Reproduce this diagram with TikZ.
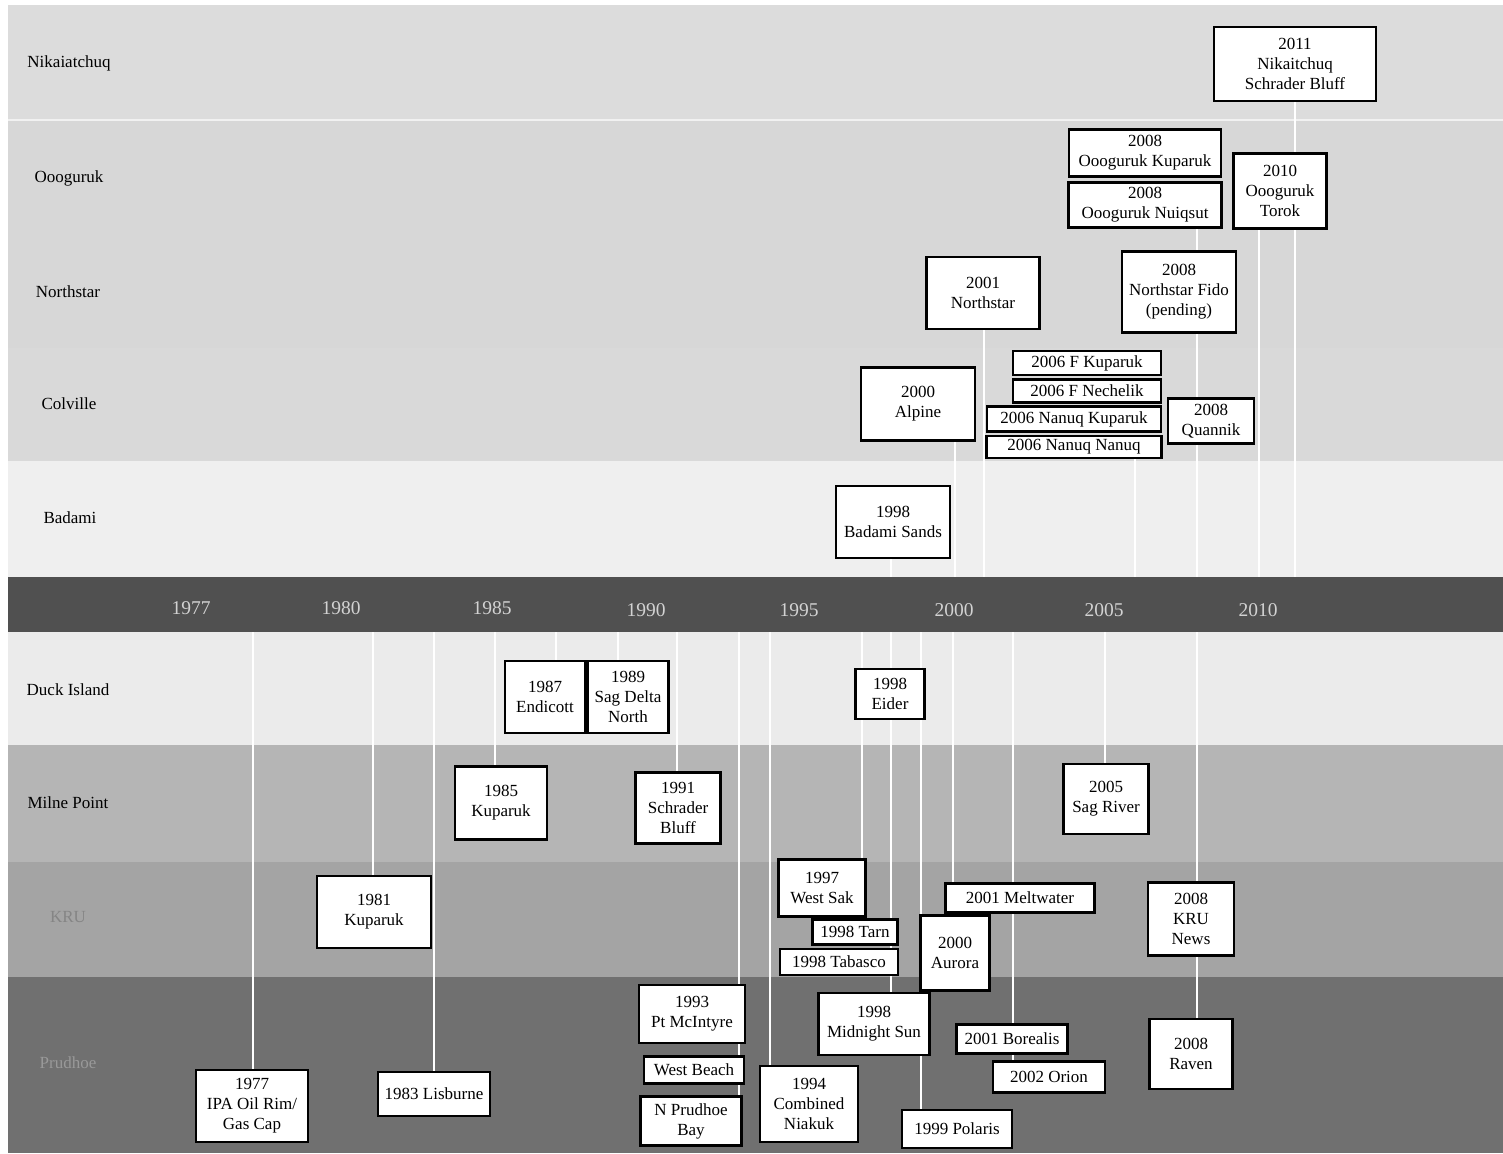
\documentclass[tikz,border=0pt]{standalone}
\usepackage{fontspec}
\setmainfont{Liberation Serif}
\usepackage{tikz}
\usetikzlibrary{backgrounds}

\definecolor{nikband}{HTML}{DCDCDC}
\definecolor{topband}{HTML}{D7D7D7}
\definecolor{colband}{HTML}{D9D9D9}
\definecolor{badband}{HTML}{EFEFEF}
\definecolor{barcol}{HTML}{505050}
\definecolor{duckband}{HTML}{EBEBEB}
\definecolor{milneband}{HTML}{B5B5B5}
\definecolor{kruband}{HTML}{A4A4A4}
\definecolor{prudband}{HTML}{707070}
\definecolor{yrgray}{HTML}{D2D2D2}

\begin{document}
\begin{tikzpicture}[x=0.5pt, y=-0.5pt,
    box/.style={draw=black, fill=white, line width=1.1pt, align=center, inner sep=1pt, font=\fontsize{8.5}{10}\selectfont},
    sz/.style 2 args={minimum width=#1*0.5pt, minimum height=#2*0.5pt},
    lane/.style={font=\fontsize{8.5}{10}\selectfont},
    yr/.style={text=yrgray, font=\fontsize{9.75}{11}\selectfont},
    conn/.style={white, line width=1pt}]
        \useasboundingbox (0,0) rectangle (1503,1153);

        \begin{pgfonlayer}{background}
        \fill[white] (0,0) rectangle (1503,1153);
        \fill[nikband] (8,5) rectangle (1503,120);
        \fill[topband] (8,120) rectangle (1503,348);
        \fill[colband] (8,348) rectangle (1503,461);
        \fill[badband] (8,461) rectangle (1503,577);
        \fill[barcol] (8,577) rectangle (1503,632);
        \fill[duckband] (8,632) rectangle (1503,745);
        \fill[milneband] (8,745) rectangle (1503,862);
        \fill[kruband] (8,862) rectangle (1503,977);
        \fill[prudband] (8,977) rectangle (1503,1153);
        \draw[white!60!nikband, line width=1pt] (8,120) -- (1503,120);
        \end{pgfonlayer}

        % fields
        \node[lane] (lnik) at (69,63) {Nikaiatchuq};
        \node[lane] (looo) at (69,178) {Oooguruk};
        \node[lane] (lnst) at (68,292) {Northstar};
        \node[lane] (lcol) at (69,404) {Colville};
        \node[lane] (lbad) at (70,518) {Badami};
        \node[lane] (lduck) at (68,690) {Duck Island};
        \node[lane] (lmil) at (68,803) {Milne Point};
        \node[lane, text=black!48] (lkru) at (68,917) {KRU};
        \node[lane, text=black!40] (lpru) at (68,1063) {Prudhoe};

        % years on the bar
        \node[yr] (y1977) at (191,608) {1977};
        \node[yr] (y1980) at (341,608) {1980};
        \node[yr] (y1985) at (492,608) {1985};
        \node[yr] (y1990) at (646,610) {1990};
        \node[yr] (y1995) at (799,610) {1995};
        \node[yr] (y2000) at (954,610) {2000};
        \node[yr] (y2005) at (1104,610) {2005};
        \node[yr] (y2010) at (1258,610) {2010};

        % upper fields
        \node[box, sz={162}{74}] (nik) at (1295,64) {2011\\Nikaitchuq\\Schrader Bluff};
        \node[box, sz={152}{47}] (ook) at (1145,153) {2008\\Oooguruk Kuparuk};
        \node[box, sz={153}{45}] (oon) at (1145,205) {2008\\Oooguruk Nuiqsut};
        \node[box, sz={93}{75}] (oot) at (1280,191) {2010\\Oooguruk\\Torok};
        \node[box, sz={113}{72}] (nst) at (983,293) {2001\\Northstar};
        \node[box, sz={114}{81}] (fido) at (1179,292) {2008\\Northstar Fido\\(pending)};
        \node[box, sz={148}{24}] (fkup) at (1087,363) {2006 F Kuparuk};
        \node[box, sz={148}{23}] (fnec) at (1087,391) {2006 F Nechelik};
        \node[box, sz={174}{25}] (nkup) at (1074,419) {2006 Nanuq Kuparuk};
        \node[box, sz={175}{22}] (nnan) at (1074,447) {2006 Nanuq Nanuq};
        \node[box, sz={86}{45}] (quan) at (1211,421) {2008\\Quannik};
        \node[box, sz={114}{73}] (alp) at (918,404) {2000\\Alpine};
        \node[box, sz={114}{72}] (bad) at (893,522) {1998\\Badami Sands};

        % lower fields
        \node[box, sz={80}{72}] (endi) at (545,697) {1987\\Endicott};
        \node[box, sz={81}{72}] (sagd) at (628,697) {1989\\Sag Delta\\North};
        \node[box, sz={69}{50}] (eider) at (890,694) {1998\\Eider};
        \node[box, sz={92}{73}] (mkup) at (501,803) {1985\\Kuparuk};
        \node[box, sz={85}{71}] (schr) at (678,808) {1991\\Schrader\\Bluff};
        \node[box, sz={85}{70}] (sagr) at (1106,799) {2005\\Sag River};
        \node[box, sz={114}{72}] (kkup) at (374,912) {1981\\Kuparuk};
        \node[box, sz={87}{57}] (wsak) at (822,888) {1997\\West Sak};
        \node[box, sz={85}{25}] (tarn) at (855,932) {1998 Tarn};
        \node[box, sz={118}{26}] (taba) at (839,962) {1998 Tabasco};
        \node[box, sz={149}{29}] (melt) at (1020,898) {2001 Meltwater};
        \node[box, sz={69}{75}] (aur) at (955,953) {2000\\Aurora};
        \node[box, sz={86}{73}] (krun) at (1191,919) {2008\\KRU\\News};
        \node[box, sz={112}{72}] (ipa) at (252,1106) {1977\\IPA Oil Rim/\\Gas Cap};
        \node[box, sz={112}{44}] (lisb) at (434,1094) {1983 Lisburne};
        \node[box, sz={106}{58}] (ptm) at (692,1014) {1993\\Pt McIntyre};
        \node[box, sz={100}{27}] (wbch) at (694,1070) {West Beach};
        \node[box, sz={101}{49}] (npb) at (691,1121) {N Prudhoe\\Bay};
        \node[box, sz={98}{76}] (niak) at (809,1104) {1994\\Combined\\Niakuk};
        \node[box, sz={111}{62}] (mids) at (874,1024) {1998\\Midnight Sun};
        \node[box, sz={111}{29}] (bore) at (1012,1039) {2001 Borealis};
        \node[box, sz={112}{31}] (orion) at (1049,1077) {2002 Orion};
        \node[box, sz={110}{38}] (pola) at (957,1129) {1999 Polaris};
        \node[box, sz={83}{70}] (raven) at (1191,1054) {2008\\Raven};

        % year marks on the bar edges
        \coordinate (a1998) at (891,577);
        \coordinate (a2000) at (955,577);
        \coordinate (a2001) at (984,577);
        \coordinate (a2006) at (1135,577);
        \coordinate (a2008) at (1197,577);
        \coordinate (a2010) at (1259,577);
        \coordinate (a2011) at (1295,577);
        \coordinate (b1977) at (253,632);
        \coordinate (b1981) at (373,632);
        \coordinate (b1983) at (434,632);
        \coordinate (b1985) at (495,632);
        \coordinate (b1987) at (556,632);
        \coordinate (b1989) at (618,632);
        \coordinate (b1991) at (677,632);
        \coordinate (b1993) at (739,632);
        \coordinate (b1994) at (770,632);
        \coordinate (b1997) at (862,632);
        \coordinate (b1998) at (891,632);
        \coordinate (b1999) at (921,632);
        \coordinate (b2000) at (953,632);
        \coordinate (b2002) at (1013,632);
        \coordinate (b2005) at (1105,632);
        \coordinate (b2008) at (1197,632);

        \begin{pgfonlayer}{background}
        \draw[conn] (a1998 |- bad.center) -- (a1998);
        \draw[conn] (a2000 |- alp.center) -- (a2000);
        \draw[conn] (a2001 |- nst.center) -- (a2001);
        \draw[conn] (a2006 |- nnan.center) -- (a2006);
        \draw[conn] (a2008 |- oon.center) -- (a2008);
        \draw[conn] (a2010 |- oot.center) -- (a2010);
        \draw[conn] (a2011 |- nik.center) -- (a2011);
        \draw[conn] (b1977) -- (b1977 |- ipa.center);
        \draw[conn] (b1981) -- (b1981 |- kkup.center);
        \draw[conn] (b1983) -- (b1983 |- lisb.center);
        \draw[conn] (b1985) -- (b1985 |- mkup.center);
        \draw[conn] (b1987) -- (b1987 |- endi.center);
        \draw[conn] (b1989) -- (b1989 |- sagd.center);
        \draw[conn] (b1991) -- (b1991 |- schr.center);
        \draw[conn] (b1993) -- (b1993 |- npb.center);
        \draw[conn] (b1994) -- (b1994 |- niak.center);
        \draw[conn] (b1997) -- (b1997 |- wsak.center);
        \draw[conn] (b1998) -- (b1998 |- mids.center);
        \draw[conn] (b1999) -- (b1999 |- pola.center);
        \draw[conn] (b2000) -- (b2000 |- aur.center);
        \draw[conn] (b2002) -- (b2002 |- orion.center);
        \draw[conn] (b2005) -- (b2005 |- sagr.center);
        \draw[conn] (b2008) -- (b2008 |- raven.center);
        \end{pgfonlayer}
      \end{tikzpicture}
\end{document}
